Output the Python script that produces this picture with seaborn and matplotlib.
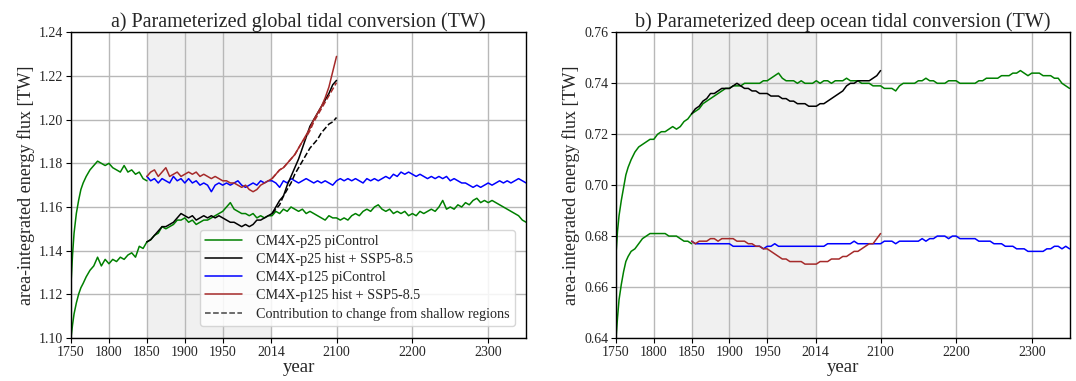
import matplotlib
matplotlib.use("Agg")
import matplotlib.pyplot as plt
import seaborn as sns
from matplotlib.lines import Line2D

# ---------------- data ----------------
spin_years = [1750, 1752, 1754, 1757, 1760, 1763, 1766, 1770, 1775, 1780, 1785, 1790, 1795,
              1800, 1805, 1810, 1815, 1820, 1825, 1830, 1835, 1840, 1845, 1850]
years_pi = list(range(1850, 2355, 5))          # 1850..2350
years_hist = list(range(1850, 2105, 5))        # 1850..2100
years_dash = list(range(2015, 2105, 5))        # 2015..2100

# Panel a: global tidal conversion
a_p25_spin = [1.100, 1.106, 1.111, 1.116, 1.120, 1.123, 1.125, 1.128, 1.131, 1.133, 1.137, 1.133, 1.136,
              1.134, 1.136, 1.135, 1.137, 1.136, 1.138, 1.139, 1.137, 1.142, 1.141, 1.144]
a_p25_pi = [1.144, 1.145, 1.147, 1.148, 1.151, 1.150, 1.151, 1.152, 1.154, 1.154,
            1.155, 1.153, 1.154, 1.152, 1.153, 1.154, 1.154, 1.155, 1.156, 1.157,
            1.158, 1.160, 1.162, 1.159, 1.158, 1.157, 1.157, 1.156, 1.157, 1.155,
            1.156, 1.155, 1.156, 1.156, 1.158, 1.157, 1.159, 1.158, 1.160, 1.159,
            1.158, 1.159, 1.157, 1.158, 1.157, 1.156, 1.155, 1.154, 1.156, 1.155,
            1.155, 1.154, 1.155, 1.154, 1.156, 1.157, 1.156, 1.158, 1.159, 1.158,
            1.160, 1.161, 1.159, 1.158, 1.159, 1.157, 1.158, 1.157, 1.158, 1.156,
            1.157, 1.156, 1.158, 1.157, 1.158, 1.159, 1.158, 1.160, 1.163, 1.159,
            1.160, 1.159, 1.161, 1.160, 1.162, 1.161, 1.163, 1.164, 1.162, 1.163,
            1.162, 1.163, 1.162, 1.161, 1.160, 1.159, 1.158, 1.157, 1.156, 1.154,
            1.153]
a_p125_spin = [1.125, 1.138, 1.148, 1.157, 1.163, 1.168, 1.171, 1.174, 1.177, 1.179, 1.181, 1.180, 1.179,
               1.180, 1.178, 1.177, 1.176, 1.179, 1.176, 1.177, 1.175, 1.176, 1.173, 1.172]
a_p125_pi = [1.174, 1.172, 1.173, 1.171, 1.173, 1.172, 1.171, 1.174, 1.172, 1.173,
             1.171, 1.173, 1.171, 1.172, 1.170, 1.171, 1.170, 1.167, 1.170, 1.171,
             1.170, 1.171, 1.170, 1.171, 1.172, 1.170, 1.169, 1.170, 1.171, 1.170,
             1.172, 1.171, 1.172, 1.172, 1.171, 1.169, 1.172, 1.171, 1.173, 1.172,
             1.171, 1.172, 1.173, 1.172, 1.171, 1.172, 1.171, 1.172, 1.171, 1.170,
             1.172, 1.173, 1.172, 1.173, 1.172, 1.173, 1.172, 1.171, 1.173, 1.172,
             1.173, 1.172, 1.173, 1.174, 1.173, 1.175, 1.174, 1.176, 1.175, 1.176,
             1.175, 1.174, 1.175, 1.174, 1.173, 1.174, 1.173, 1.174, 1.173, 1.174,
             1.172, 1.173, 1.172, 1.171, 1.171, 1.170, 1.169, 1.170, 1.169, 1.170,
             1.171, 1.170, 1.171, 1.172, 1.171, 1.172, 1.171, 1.172, 1.173, 1.172,
             1.171]
a_p25_hist = [1.144, 1.145, 1.147, 1.149, 1.151, 1.151, 1.152, 1.153, 1.155, 1.157,
              1.156, 1.155, 1.156, 1.154, 1.155, 1.156, 1.155, 1.156, 1.155, 1.156,
              1.155, 1.154, 1.153, 1.153, 1.152, 1.151, 1.152, 1.151, 1.152, 1.154,
              1.154, 1.155, 1.156, 1.157, 1.160, 1.163, 1.165, 1.170, 1.174, 1.178,
              1.182, 1.187, 1.192, 1.197, 1.200, 1.203, 1.206, 1.209, 1.212, 1.216,
              1.218]
a_p125_hist = [1.174, 1.176, 1.177, 1.174, 1.176, 1.178, 1.174, 1.175, 1.176, 1.174,
               1.175, 1.176, 1.175, 1.176, 1.174, 1.175, 1.174, 1.173, 1.174, 1.173,
               1.172, 1.172, 1.171, 1.171, 1.170, 1.169, 1.170, 1.168, 1.167, 1.168,
               1.170, 1.171, 1.172, 1.173, 1.175, 1.177, 1.178, 1.180, 1.182, 1.184,
               1.187, 1.190, 1.193, 1.196, 1.200, 1.203, 1.206, 1.210, 1.215, 1.222,
               1.229]
a_p25_shallow = [1.157, 1.159, 1.161, 1.165, 1.168, 1.171, 1.175, 1.178, 1.181, 1.184,
                 1.187, 1.189, 1.191, 1.194, 1.196, 1.198, 1.199, 1.201]
a_p125_shallow = [1.173, 1.175, 1.177, 1.178, 1.180, 1.182, 1.184, 1.187, 1.190, 1.192,
                  1.195, 1.199, 1.202, 1.205, 1.208, 1.211, 1.214, 1.217]

# Panel b: deep ocean tidal conversion
b_p25_spin = [0.673, 0.682, 0.688, 0.694, 0.699, 0.704, 0.707, 0.710, 0.713, 0.715, 0.716, 0.717, 0.718,
              0.718, 0.720, 0.721, 0.721, 0.722, 0.723, 0.722, 0.723, 0.725, 0.726, 0.728]
b_p25_pi = [0.728, 0.729, 0.730, 0.732, 0.733, 0.734, 0.735, 0.736, 0.737, 0.738,
            0.738, 0.739, 0.739, 0.739, 0.740, 0.740, 0.740, 0.740, 0.740, 0.741,
            0.741, 0.742, 0.743, 0.744, 0.742, 0.741, 0.741, 0.741, 0.740, 0.741,
            0.740, 0.740, 0.740, 0.741, 0.740, 0.741, 0.741, 0.740, 0.741, 0.741,
            0.741, 0.742, 0.741, 0.741, 0.741, 0.740, 0.740, 0.740, 0.739, 0.739,
            0.739, 0.738, 0.738, 0.738, 0.737, 0.739, 0.740, 0.740, 0.740, 0.740,
            0.741, 0.741, 0.742, 0.741, 0.741, 0.740, 0.740, 0.740, 0.741, 0.741,
            0.741, 0.740, 0.740, 0.740, 0.740, 0.740, 0.741, 0.741, 0.742, 0.742,
            0.742, 0.742, 0.743, 0.743, 0.743, 0.744, 0.744, 0.745, 0.744, 0.743,
            0.744, 0.744, 0.744, 0.743, 0.743, 0.743, 0.742, 0.742, 0.740, 0.739,
            0.738]
b_p125_spin = [0.640, 0.648, 0.655, 0.661, 0.666, 0.670, 0.672, 0.674, 0.675, 0.677, 0.679, 0.680, 0.681,
               0.681, 0.681, 0.681, 0.681, 0.680, 0.680, 0.680, 0.679, 0.678, 0.678, 0.677]
b_p125_pi = [0.678, 0.677, 0.677, 0.677, 0.677, 0.677, 0.677, 0.677, 0.677, 0.677,
             0.677, 0.676, 0.676, 0.676, 0.676, 0.676, 0.676, 0.676, 0.676, 0.675,
             0.676, 0.676, 0.677, 0.676, 0.676, 0.676, 0.676, 0.676, 0.676, 0.676,
             0.676, 0.676, 0.676, 0.676, 0.676, 0.676, 0.677, 0.677, 0.677, 0.677,
             0.677, 0.677, 0.677, 0.678, 0.677, 0.677, 0.677, 0.677, 0.677, 0.677,
             0.677, 0.678, 0.678, 0.678, 0.677, 0.678, 0.678, 0.678, 0.678, 0.678,
             0.678, 0.679, 0.678, 0.679, 0.679, 0.680, 0.680, 0.680, 0.679, 0.680,
             0.680, 0.679, 0.679, 0.679, 0.679, 0.679, 0.678, 0.678, 0.678, 0.678,
             0.677, 0.677, 0.677, 0.676, 0.676, 0.676, 0.675, 0.675, 0.675, 0.674,
             0.674, 0.674, 0.674, 0.674, 0.675, 0.675, 0.676, 0.676, 0.675, 0.676,
             0.675]
b_p25_hist = [0.728, 0.730, 0.731, 0.733, 0.734, 0.736, 0.736, 0.737, 0.738, 0.738,
              0.738, 0.739, 0.740, 0.739, 0.738, 0.738, 0.737, 0.737, 0.736, 0.736,
              0.736, 0.735, 0.735, 0.735, 0.734, 0.734, 0.733, 0.733, 0.732, 0.732,
              0.732, 0.731, 0.731, 0.731, 0.732, 0.732, 0.733, 0.734, 0.735, 0.736,
              0.737, 0.739, 0.740, 0.740, 0.741, 0.741, 0.741, 0.741, 0.742, 0.743,
              0.745]
b_p125_hist = [0.678, 0.677, 0.678, 0.678, 0.678, 0.679, 0.679, 0.678, 0.679, 0.679,
               0.679, 0.679, 0.678, 0.678, 0.678, 0.677, 0.677, 0.676, 0.676, 0.675,
               0.675, 0.674, 0.673, 0.672, 0.671, 0.671, 0.670, 0.670, 0.670, 0.670,
               0.669, 0.669, 0.669, 0.669, 0.670, 0.670, 0.670, 0.671, 0.671, 0.671,
               0.672, 0.672, 0.673, 0.674, 0.674, 0.675, 0.676, 0.677, 0.677, 0.679,
               0.681]

xticks = [1750, 1800, 1850, 1900, 1950, 2014, 2100, 2200, 2300]
yticks_a = [1.10, 1.12, 1.14, 1.16, 1.18, 1.20, 1.22, 1.24]
yticks_b = [0.64, 0.66, 0.68, 0.70, 0.72, 0.74, 0.76]
labels = ["CM4X-p25 piControl", "CM4X-p25 hist + SSP5-8.5", "CM4X-p125 piControl",
          "CM4X-p125 hist + SSP5-8.5", "Contribution to change from shallow regions"]
titles = ["a) Parameterized global tidal conversion (TW)",
          "b) Parameterized deep ocean tidal conversion (TW)"]

# ---------------- style ----------------
sns.set_theme(style="ticks")
plt.rcParams["font.family"] = ["Liberation Serif", "DejaVu Serif"]
plt.rcParams["axes.edgecolor"] = "black"

GREEN, BLACK, BLUE, RED = "#008000", "#000000", "#0000ff", "#a52a2a"
LW = 1.1

fig = plt.figure(figsize=(10.76, 3.81), dpi=100)
axa = fig.add_axes([0.066, 0.113, 0.423, 0.802])
axb = fig.add_axes([0.5725, 0.113, 0.4215, 0.802])


def draw(ax, p25_spin, p25_pi, p125_spin, p125_pi, p25_hist, p125_hist,
         p25_sh=None, p125_sh=None):
    ax.axvspan(1850, 2014, color="#f0f0f0", zorder=0.2, lw=0)
    sns.lineplot(x=spin_years, y=p25_spin, color=GREEN, lw=LW, ax=ax, zorder=2)
    sns.lineplot(x=spin_years, y=p125_spin, color=GREEN, lw=LW, ax=ax, zorder=2)
    sns.lineplot(x=years_pi, y=p25_pi, color=GREEN, lw=LW, ax=ax, zorder=2)
    sns.lineplot(x=years_hist, y=p25_hist, color=BLACK, lw=LW, ax=ax, zorder=3)
    sns.lineplot(x=years_pi, y=p125_pi, color=BLUE, lw=LW, ax=ax, zorder=2)
    sns.lineplot(x=years_hist, y=p125_hist, color=RED, lw=LW, ax=ax, zorder=3)
    if p25_sh is not None:
        sns.lineplot(x=years_dash, y=p25_sh, color=BLACK, lw=LW, ls="--", ax=ax, zorder=3)
        sns.lineplot(x=years_dash, y=p125_sh, color=RED, lw=LW, ls="--", ax=ax, zorder=3)
    ax.set_xlim(1750, 2350)
    ax.set_xticks(xticks)
    ax.set_xticklabels([str(t) for t in xticks])
    ax.set_axisbelow(True)
    ax.grid(True, color="#b8b8b8", lw=1.0, zorder=0.5)
    ax.tick_params(labelsize=10, length=3.5, width=0.8, color="black", pad=2)
    for s in ax.spines.values():
        s.set_color("black")
        s.set_linewidth(1.0)
    ax.set_xlabel("year", fontsize=13.5, labelpad=0)
    ax.set_ylabel("area-integrated energy flux [TW]", fontsize=13, labelpad=3)


draw(axa, a_p25_spin, a_p25_pi, a_p125_spin, a_p125_pi, a_p25_hist, a_p125_hist,
     a_p25_shallow, a_p125_shallow)
axa.set_ylim(1.10, 1.24)
axa.set_yticks(yticks_a)
axa.set_yticklabels([f"{v:.2f}" for v in yticks_a])
axa.set_title(titles[0], fontsize=14.5, pad=4)

handles = [Line2D([], [], color=c, lw=LW) for c in (GREEN, BLACK, BLUE, RED)]
handles.append(Line2D([], [], color="#444444", lw=LW, ls="--"))
axa.legend(handles, labels, loc="lower right", bbox_to_anchor=(0.99, 0.015),
           fontsize=10.2, frameon=True, framealpha=0.85, edgecolor="#d0d0d0",
           handlelength=2.6, labelspacing=0.36, borderpad=0.35, handletextpad=1.0)

draw(axb, b_p25_spin, b_p25_pi, b_p125_spin, b_p125_pi, b_p25_hist, b_p125_hist)
axb.set_ylim(0.64, 0.76)
axb.set_yticks(yticks_b)
axb.set_yticklabels([f"{v:.2f}" for v in yticks_b])
axb.set_title(titles[1], fontsize=14.5, pad=4)

fig.savefig("out.png", dpi=100)
